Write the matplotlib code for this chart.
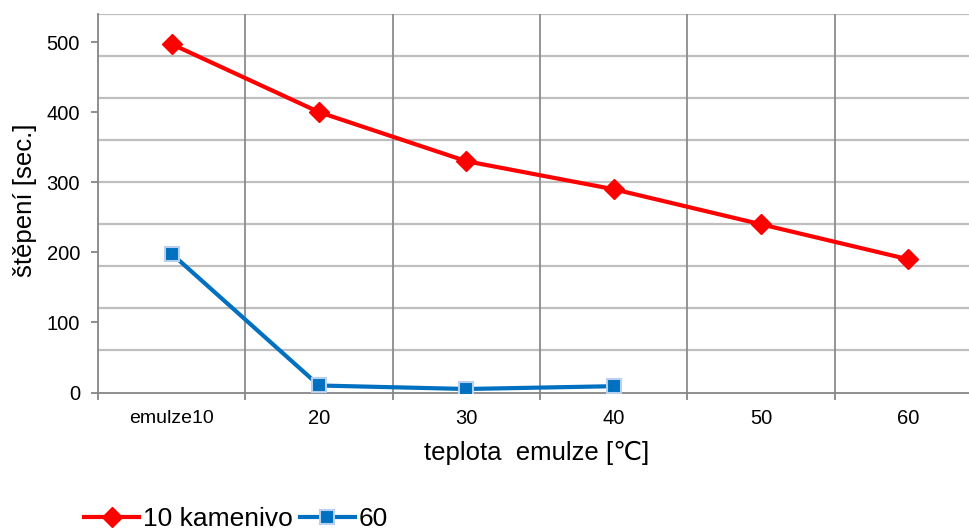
import numpy as np
import matplotlib.pyplot as plt

plt.rcParams['font.family'] = ['Liberation Sans', 'DejaVu Sans']

categories = ['emulze10', '20', '30', '40', '50', '60']
kamenivo_10 = [497, 400, 330, 290, 240, 190]
series_60 = [198, 10, 5, 9]
y_ticks = [0, 100, 200, 300, 400, 500]

fig = plt.figure(figsize=(9.69, 5.31), dpi=100)
# plot area runs past the right edge, as in the original
ax = fig.add_axes([98 / 969, 138.5 / 531, 884 / 969, 378.5 / 531])

x = np.arange(len(categories))
ax.set_xlim(-0.5, len(categories) - 0.5)
ax.set_ylim(0, 540)

# horizontal gridlines every 60, vertical ones between categories
for yv in np.arange(60, 541, 60):
    ax.axhline(yv, color='#bfbfbf', lw=1.6, zorder=0)
for xv in np.arange(0.5, len(categories) - 0.5, 1):
    ax.axvline(xv, color='#8c8c8c', lw=1.3, zorder=0)

ax.plot(x, kamenivo_10, color='#ff0000', lw=3, marker='D', ms=10,
        mec='#ff0000', mfc='#ff0000', label='10 kamenivo', zorder=3)
ax.plot(x[:len(series_60)], series_60, color='#0070c0', lw=3, marker='s', ms=9.5,
        mec='#b9cfee', mew=1.5, mfc='#0070c0', label='60', zorder=3)

for side in ['top', 'right']:
    ax.spines[side].set_visible(False)
for side in ['left', 'bottom']:
    ax.spines[side].set_color('#868686')
    ax.spines[side].set_linewidth(1.3)

ax.set_yticks(y_ticks)
ax.set_xticks(np.arange(-0.5, len(categories) + 0.5, 1))
ax.set_xticklabels([])
ax.tick_params(axis='both', colors='#868686', length=5, width=1.3, labelcolor='black')
ax.tick_params(axis='y', labelsize=14.5, pad=8)
for i, c in enumerate(categories):
    ax.text(i, -37, c, ha='center', va='center', fontsize=14.5 if i else 14)

fig.text(537 / 969, 1 - 453 / 531, 'teplota  emulze [\u2103]', ha='center', va='center',
         fontsize=18.5)
fig.text(25 / 969, 1 - 200 / 531, 'štěpení [sec.]', ha='center', va='center',
         rotation=90, fontsize=18.5)

fig.legend(loc='center left', bbox_to_anchor=(84 / 969, 1 - 519 / 531), ncol=2,
           frameon=False, fontsize=19, handlelength=2.1, handletextpad=0.15,
           columnspacing=0.25, borderaxespad=0, borderpad=0)

fig.savefig('out.png', dpi=100)
